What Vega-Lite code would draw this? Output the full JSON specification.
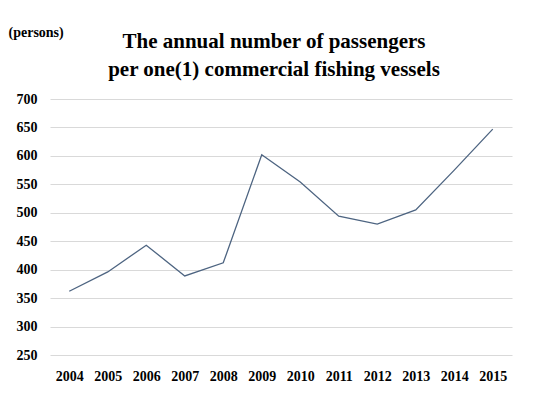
{
  "$schema": "https://vega.github.io/schema/vega-lite/v6.json",
  "width": 462,
  "height": 256,
  "autosize": {"type": "none"},
  "padding": {"left": 50, "top": 99, "right": 24, "bottom": 40},
  "background": "white",
  "title": {
    "text": ["The annual number  of passengers", "per one(1) commercial fishing vessels"],
    "font": "'Times New Roman', 'Liberation Serif', 'DejaVu Serif', serif",
    "fontSize": 21,
    "fontWeight": "bold",
    "color": "#000000",
    "lineHeight": 28,
    "anchor": "middle",
    "dx": -7,
    "offset": -55
  },
  "data": {
    "values": [
      {"year": "2004", "value": 362},
      {"year": "2005", "value": 396},
      {"year": "2006", "value": 443},
      {"year": "2007", "value": 389},
      {"year": "2008", "value": 412},
      {"year": "2009", "value": 602},
      {"year": "2010", "value": 554},
      {"year": "2011", "value": 494},
      {"year": "2012", "value": 480},
      {"year": "2013", "value": 505},
      {"year": "2014", "value": 575},
      {"year": "2015", "value": 647}
    ]
  },
  "mark": {"type": "line", "color": "#4d6481", "strokeWidth": 1.3},
  "encoding": {
    "x": {
      "field": "year",
      "type": "ordinal",
      "scale": {"type": "point", "padding": 0.5},
      "axis": {
        "title": null,
        "labelAngle": 0,
        "domain": false,
        "ticks": false,
        "grid": false,
        "labelFont": "'Times New Roman', 'Liberation Serif', 'DejaVu Serif', serif",
        "labelFontSize": 14,
        "labelFontWeight": "bold",
        "labelColor": "#000000",
        "labelPadding": 14
      }
    },
    "y": {
      "field": "value",
      "type": "quantitative",
      "scale": {"domain": [250, 700], "nice": false, "zero": false},
      "axis": {
        "values": [250, 300, 350, 400, 450, 500, 550, 600, 650, 700],
        "title": "(persons)",
        "titleAngle": 0,
        "titleX": -42,
        "titleY": -67,
        "titleAlign": "left",
        "titleBaseline": "middle",
        "titleFont": "'Times New Roman', 'Liberation Serif', 'DejaVu Serif', serif",
        "titleFontSize": 14,
        "titleFontWeight": "bold",
        "titleColor": "#000000",
        "domain": false,
        "ticks": false,
        "grid": true,
        "gridColor": "#d9d9d9",
        "gridWidth": 1,
        "labelFont": "'Times New Roman', 'Liberation Serif', 'DejaVu Serif', serif",
        "labelFontSize": 14,
        "labelFontWeight": "bold",
        "labelColor": "#000000",
        "labelPadding": 13
      }
    }
  },
  "config": {"view": {"stroke": null}}
}
